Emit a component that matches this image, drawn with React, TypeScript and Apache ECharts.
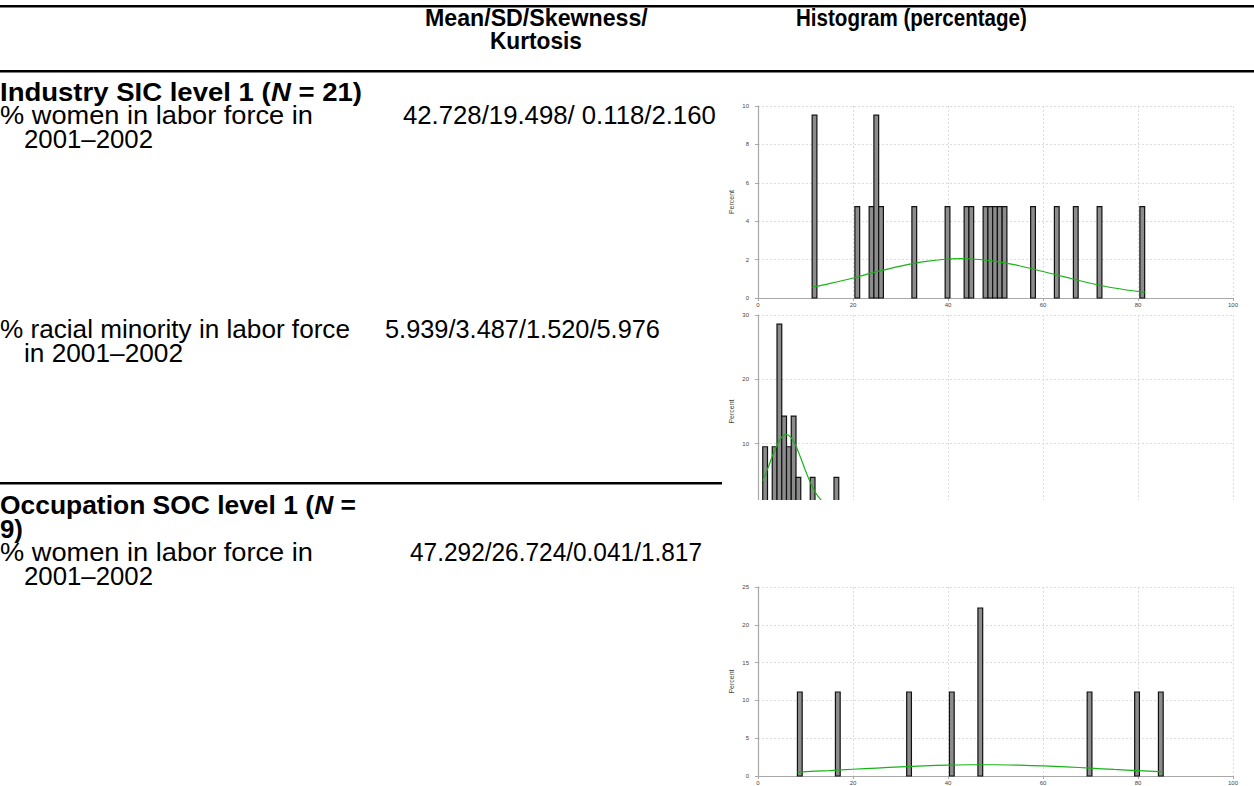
import React, { useEffect, useRef } from "react";
import * as echarts from "echarts";

// ---------- data ----------
const xTicks = [0, 20, 40, 60, 80, 100];

// Industry SIC level 1 – % women
const sicWomenBins = [11.9, 20.9, 23.9, 24.9, 25.9, 32.9, 39.9, 43.9, 44.9, 47.9, 48.9, 49.9, 50.9, 51.9, 57.9, 62.9, 66.9, 71.9, 80.9];
const sicWomenPct = [9.52, 4.76, 4.76, 9.52, 4.76, 4.76, 4.76, 4.76, 4.76, 4.76, 4.76, 4.76, 4.76, 4.76, 4.76, 4.76, 4.76, 4.76, 4.76];
const sicWomenCurveX = [11.4, 15, 20, 25, 30, 35, 40, 42.7, 45, 50, 55, 60, 65, 70, 75, 81.4];
const sicWomenCurveY = [0.56, 0.75, 1.04, 1.37, 1.66, 1.89, 2.03, 2.05, 2.03, 1.91, 1.68, 1.38, 1.07, 0.77, 0.52, 0.29];

// Industry SIC level 1 – % racial minority
const sicMinorityBins = [1.5, 3.5, 4.5, 5.5, 6.5, 7.5, 8.5, 11.5, 16.5];
const sicMinorityPct = [9.52, 9.52, 28.57, 14.29, 9.52, 14.29, 4.76, 4.76, 4.76];
const sicMinorityCurveX = [1, 2, 3, 4, 5, 5.9, 7, 8, 9, 10, 11, 12, 13, 14, 15, 16.9];
const sicMinorityCurveY = [4.2, 6.04, 8.02, 9.8, 11.03, 11.44, 10.92, 9.61, 7.78, 5.81, 3.99, 2.52, 1.47, 0.79, 0.39, 0.08];

// Occupation SOC level 1 – % women
const socWomenBins = [8.8, 16.8, 31.8, 40.8, 46.8, 69.8, 79.8, 84.8];
const socWomenPct = [11.11, 11.11, 11.11, 11.11, 22.22, 11.11, 11.11, 11.11];
const socWomenCurveX = [8.3, 15, 20, 25, 30, 35, 40, 45, 47.3, 50, 55, 60, 65, 70, 75, 80, 85.3];
const socWomenCurveY = [0.52, 0.72, 0.89, 1.05, 1.21, 1.34, 1.44, 1.49, 1.49, 1.49, 1.43, 1.33, 1.2, 1.04, 0.87, 0.71, 0.54];

const yTicks1 = { max: 10, interval: 2 };
const yTicks2 = { max: 30, interval: 10 };
const yTicks3 = { max: 25, interval: 5 };

const BIN = 1;

const FONT = '"Liberation Sans", Arial, sans-serif';

function measure(text: string, size: number, bold: boolean) {
  const ctx = document.createElement("canvas").getContext("2d")!;
  ctx.font = `${bold ? "bold " : ""}${size}px ${FONT}`;
  return ctx.measureText(text).width;
}

// text stretched horizontally between left and right edge
function txt(text: string, plain: string, left: number, right: number, y: number, size: number, bold = false) {
  const w = measure(plain, size, bold);
  return {
    type: "text",
    x: left,
    y,
    scaleX: (right - left) / w,
    z: 200,
    style: {
      text,
      fontFamily: FONT,
      fontSize: size,
      fontWeight: bold ? "bold" : "normal",
      fill: "#000",
      align: "left",
      verticalAlign: "middle",
      rich: {
        i: { fontFamily: FONT, fontSize: size, fontWeight: "bold", fontStyle: "italic", fill: "#000" },
      },
    },
  };
}

function hline(y: number, x1: number, x2: number, h: number) {
  return { type: "rect", z: 150, shape: { x: x1, y, width: x2 - x1, height: h }, style: { fill: "#000" } };
}

function makeXAxis(gi: number) {
  return {
    type: "value",
    gridIndex: gi,
    min: xTicks[0],
    max: xTicks[xTicks.length - 1],
    interval: 20,
    offset: 1,
    axisLine: { show: true, lineStyle: { color: "#a8a8a8", width: 1.2 } },
    axisTick: { show: true, length: 3, lineStyle: { color: "#a8a8a8" } },
    axisLabel: { fontSize: 6, color: "#444", margin: 3, fontFamily: FONT },
    splitLine: { show: true, lineStyle: { color: "#dcdcdc", type: [2, 2], width: 1 } },
  };
}

function makeYAxis(gi: number, t: { max: number; interval: number }) {
  return {
    type: "value",
    gridIndex: gi,
    min: 0,
    max: t.max,
    interval: t.interval,
    offset: 6,
    name: "Percent",
    nameLocation: "middle",
    nameGap: 17,
    nameTextStyle: { fontSize: 7, color: "#444", fontFamily: FONT },
    axisLine: { show: true, lineStyle: { color: "#a8a8a8", width: 1.2 } },
    axisTick: { show: true, length: 3, lineStyle: { color: "#a8a8a8" } },
    axisLabel: { fontSize: 6, color: "#444", margin: 3, fontFamily: FONT },
    splitLine: { show: true, lineStyle: { color: "#dcdcdc", type: [2, 2], width: 1 } },
  };
}

function barSeries(gi: number, bins: number[], pct: number[]) {
  return {
    type: "custom",
    xAxisIndex: gi,
    yAxisIndex: gi,
    z: 5,
    encode: { x: 0, y: 1 },
    data: bins.map((b, i) => [b, pct[i]]),
    renderItem: (_p: any, api: any) => {
      const x = api.value(0);
      const y = api.value(1);
      const p0 = api.coord([x - BIN / 2, y]);
      const p1 = api.coord([x + BIN / 2, 0]);
      return {
        type: "rect",
        shape: { x: p0[0], y: p0[1], width: p1[0] - p0[0], height: p1[1] - p0[1] },
        style: { fill: "#8c8c8c", stroke: "#111", lineWidth: 1.2 },
      };
    },
  };
}

function curveSeries(gi: number, xs: number[], ys: number[]) {
  return {
    type: "line",
    xAxisIndex: gi,
    yAxisIndex: gi,
    z: 6,
    data: xs.map((x, i) => [x, ys[i]]),
    smooth: 0.3,
    showSymbol: false,
    symbol: "none",
    lineStyle: { color: "#17b317", width: 1.2 },
  };
}

export default function App() {
  const ref = useRef<HTMLDivElement>(null);
  useEffect(() => {
    document.body.style.margin = "0";
    const chart = echarts.init(ref.current!, null, { renderer: "svg" });
    const H = 23;
    const B = 25.5;
    const option: any = {
      animation: false,
      backgroundColor: "#fff",
      grid: [
        { left: 758, right: 21, top: 106, bottom: 488 },
        { left: 758, right: 21, top: 315, bottom: 278 },
        { left: 758, right: 21, top: 587, bottom: 7 },
      ],
      xAxis: [makeXAxis(0), makeXAxis(1), makeXAxis(2)],
      yAxis: [makeYAxis(0, yTicks1), makeYAxis(1, yTicks2), makeYAxis(2, yTicks3)],
      series: [
        barSeries(0, sicWomenBins, sicWomenPct),
        curveSeries(0, sicWomenCurveX, sicWomenCurveY),
        barSeries(1, sicMinorityBins, sicMinorityPct),
        curveSeries(1, sicMinorityCurveX, sicMinorityCurveY),
        barSeries(2, socWomenBins, socWomenPct),
        curveSeries(2, socWomenCurveX, socWomenCurveY),
      ],
      graphic: [
        hline(5, 0, 1254, 2.5),
        txt("Mean/SD/Skewness/", "Mean/SD/Skewness/", 425, 648, 18, H, true),
        txt("Kurtosis", "Kurtosis", 490, 582, 41, H, true),
        txt("Histogram (percentage)", "Histogram (percentage)", 796, 1027, 18, H, true),
        hline(70, 0, 1254, 2.5),
        txt("Industry SIC level 1 ({i|N} = 21)", "Industry SIC level 1 (N = 21)", 0, 362, 92, B, true),
        txt("% women in labor force in", "% women in labor force in", 0, 313, 115, B),
        txt("2001–2002", "2001–2002", 24, 153, 139, B),
        txt("42.728/19.498/ 0.118/2.160", "42.728/19.498/ 0.118/2.160", 403, 716, 115, B),
        txt("% racial minority in labor force", "% racial minority in labor force", 0, 350, 329, B),
        txt("in 2001–2002", "in 2001–2002", 24, 183, 353, B),
        txt("5.939/3.487/1.520/5.976", "5.939/3.487/1.520/5.976", 385, 660, 329, B),
        // white area of the next image covering the lower part of the second histogram
        { type: "rect", z: 120, shape: { x: 722, y: 500, width: 532, height: 60 }, style: { fill: "#fff" } },
        hline(482, 0, 722, 2.5),
        txt("Occupation SOC level 1 ({i|N} =", "Occupation SOC level 1 (N =", 0, 356, 505, B, true),
        txt("9)", "9)", 0, 23, 529, B, true),
        txt("% women in labor force in", "% women in labor force in", 0, 313, 552, B),
        txt("2001–2002", "2001–2002", 24, 153, 576, B),
        txt("47.292/26.724/0.041/1.817", "47.292/26.724/0.041/1.817", 410, 702, 552, B),
      ],
    };
    chart.setOption(option);
    return () => chart.dispose();
  }, []);
  return <div ref={ref} style={{ width: 1254, height: 786 }} />;
}
